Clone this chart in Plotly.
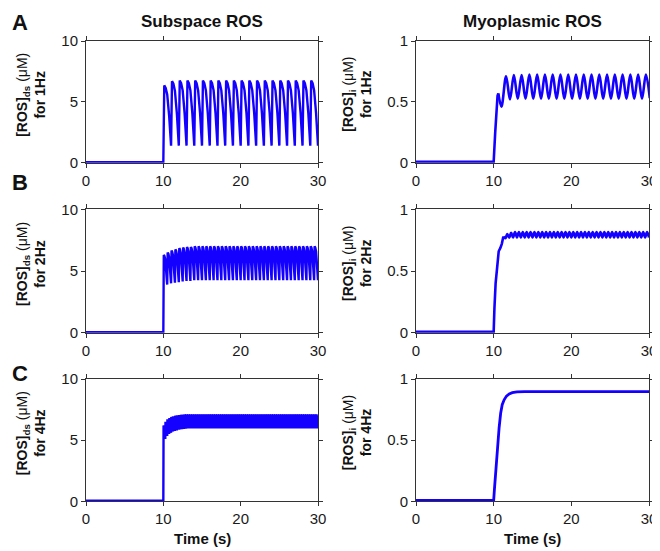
import plotly.graph_objects as go

# ---------------- data ----------------
t_start, t_end = 0.0, 30.0
stim_on = 10.0

# Subspace ROS, per-beat peak / trough values (uM)
ds_1hz_peak = [6.35, 6.7, 6.75, 6.75, 6.75, 6.75, 6.75, 6.75, 6.75, 6.75,
               6.75, 6.75, 6.75, 6.75, 6.75, 6.75, 6.75, 6.75, 6.75, 6.75]
ds_1hz_trough = [1.4, 1.4, 1.4, 1.4, 1.4, 1.4, 1.4, 1.4, 1.4, 1.4,
                 1.4, 1.4, 1.4, 1.4, 1.4, 1.4, 1.4, 1.4, 1.4, 1.4]
ds_2hz_peak = [6.3, 6.5, 6.65, 6.75, 6.85, 6.9, 6.95, 6.95] + [7.0] * 32
ds_2hz_trough = [3.9, 4.0, 4.05, 4.1, 4.15, 4.2, 4.2, 4.25] + [4.25] * 32
ds_4hz_peak = [6.2, 6.5, 6.7, 6.8, 6.9, 6.95, 7.0, 7.03, 7.05, 7.07, 7.08] + [7.1] * 69
ds_4hz_trough = [5.1, 5.35, 5.5, 5.6, 5.7, 5.75, 5.8, 5.85, 5.88, 5.9, 5.92, 5.94] + [5.96] * 68
ds_baseline = 0.05

# Myoplasmic ROS (uM): onset rise, then per-beat peaks / troughs
myo_baseline = 0.008
myo_1hz_rise_t = [10.0, 10.2, 10.4, 10.5, 10.6]
myo_1hz_rise_v = [0.008, 0.25, 0.48, 0.55, 0.57]
myo_1hz_osc_start = 10.6
myo_1hz_peak = [0.71, 0.72, 0.72, 0.725, 0.725, 0.725, 0.725, 0.725, 0.725, 0.725,
                0.725, 0.725, 0.725, 0.725, 0.725, 0.725, 0.725, 0.725, 0.725]
myo_1hz_trough = [0.46, 0.52, 0.525, 0.525, 0.525, 0.525, 0.525, 0.525, 0.525, 0.525,
                  0.525, 0.525, 0.525, 0.525, 0.525, 0.525, 0.525, 0.525, 0.525, 0.53]

myo_2hz_rise_t = [10.0, 10.1, 10.25, 10.45, 10.65, 10.85, 11.05, 11.25]
myo_2hz_rise_v = [0.008, 0.2, 0.40, 0.53, 0.66, 0.685, 0.72, 0.78]
myo_2hz_osc_start = 11.25
myo_2hz_peak = [0.8, 0.81] + [0.815] * 35
myo_2hz_trough = [0.765, 0.77] + [0.772] * 36

myo_4hz_t = [10.0, 10.1, 10.3, 10.5, 10.7, 10.9, 11.1, 11.35, 11.65, 12.0, 12.4, 13.0, 14.0, 30.0]
myo_4hz_v = [0.008, 0.1, 0.28, 0.45, 0.6, 0.72, 0.79, 0.83, 0.86, 0.878, 0.888, 0.894, 0.896, 0.897]

freq_labels = ["1Hz", "2Hz", "4Hz"]
panel_letters = ["A", "B", "C"]
col_titles = ["Subspace ROS", "Myoplasmic ROS"]
x_ticks = [0, 10, 20, 30]
ds_ticks = [0, 5, 10]
myo_ticks = [0, 0.5, 1]
myo_tick_text = ["0", "0.5", "1"]

# ---------------- helpers ----------------
# shape of one subspace transient (fractions of period, fraction of drop)
SHAPE_F = [0.12, 0.3, 0.5, 0.75, 1.0]
SHAPE_W = [0.0, 0.04, 0.15, 0.5, 1.0]


def pulse_train(freq, peaks, troughs, base):
    period = 1.0 / freq
    xs, ys = [t_start, stim_on], [base, base]
    for k, (p, tr) in enumerate(zip(peaks, troughs)):
        b = stim_on + k * period
        for f, w in zip(SHAPE_F, SHAPE_W):
            xs.append(b + f * period)
            ys.append(p - w * (p - tr))
    return xs, ys


def osc_train(freq, start, start_v, troughs, peaks):
    """alternating trough / peak every half period after `start`"""
    period = 1.0 / freq
    xs, ys = [start], [start_v]
    n = max(len(troughs), len(peaks))
    for k in range(n):
        if k < len(troughs):
            xs.append(start + (k + 0.5) * period)
            ys.append(troughs[k])
        if k < len(peaks):
            xs.append(start + (k + 1.0) * period)
            ys.append(peaks[k])
    return xs, ys


# ---------------- layout geometry ----------------
# the page adds an 8px body margin; layout is done in window pixels
OFF = 8
W, H = 660 - OFF, 551 - OFF
FONT = "Liberation Sans, Arial, sans-serif"
BLUE = "rgb(20,0,255)"
AX = "#333333"

col_px = [(86, 318), (416, 649)]
row_px = [(41, 162.7), (209.3, 332.7), (379, 501.3)]


def px_x(x):
    return (x - OFF) / W


def px_y(y):
    return 1 - (y - OFF) / H


fig = go.Figure()


def add_line(xs, ys, xa, ya, width, shape="linear"):
    fig.add_trace(go.Scatter(x=xs, y=ys, mode="lines", xaxis=xa, yaxis=ya,
                             line=dict(color=BLUE, width=width, shape=shape,
                                       smoothing=1.0 if shape == "spline" else None),
                             showlegend=False, hoverinfo="skip"))


for r in range(3):
    for c in range(2):
        idx = r * 2 + c + 1
        xa = "x" if idx == 1 else f"x{idx}"
        ya = "y" if idx == 1 else f"y{idx}"
        if c == 0:
            xs, ys = [pulse_train(1, ds_1hz_peak, ds_1hz_trough, ds_baseline),
                      pulse_train(2, ds_2hz_peak, ds_2hz_trough, ds_baseline),
                      pulse_train(4, ds_4hz_peak, ds_4hz_trough, ds_baseline)][r]
            add_line(xs, ys, xa, ya, 2.4)
        else:
            if r == 0:
                add_line([t_start] + myo_1hz_rise_t, [myo_baseline] + myo_1hz_rise_v, xa, ya, 2.6)
                ox, oy = osc_train(1, myo_1hz_osc_start, myo_1hz_rise_v[-1],
                                   myo_1hz_trough, myo_1hz_peak)
                ox[1] = 11.0
                add_line(ox, oy, xa, ya, 2.6, "spline")
            elif r == 1:
                add_line([t_start] + myo_2hz_rise_t, [myo_baseline] + myo_2hz_rise_v, xa, ya, 2.6)
                ox, oy = osc_train(2, myo_2hz_osc_start, myo_2hz_rise_v[-1],
                                   myo_2hz_trough, myo_2hz_peak)
                add_line(ox, oy, xa, ya, 2.6, "spline")
            else:
                add_line([t_start] + myo_4hz_t, [myo_baseline] + myo_4hz_v, xa, ya, 2.8)
        x0, x1 = col_px[c]
        y0, y1 = row_px[r]
        axis_common = dict(showline=True, linecolor=AX, linewidth=1, mirror="ticks",
                           ticks="outside", ticklen=4, tickcolor=AX, tickwidth=1,
                           showgrid=False, zeroline=False, automargin=False,
                           tickfont=dict(family=FONT, size=15, color="#1a1a1a"))
        xkey = "xaxis" if idx == 1 else f"xaxis{idx}"
        ykey = "yaxis" if idx == 1 else f"yaxis{idx}"
        fig.layout[xkey] = dict(domain=[px_x(x0), px_x(x1)], range=[t_start, t_end],
                                tickvals=x_ticks, anchor=ya, **axis_common)
        if c == 0:
            yticks = dict(tickvals=ds_ticks, range=[0, 10])
        else:
            yticks = dict(tickvals=myo_ticks, ticktext=myo_tick_text, range=[0, 1])
        fig.layout[ykey] = dict(domain=[px_y(y1), px_y(y0)], anchor=xa,
                                **yticks, **axis_common)

ann = []
for c, title in enumerate(col_titles):
    cx = (col_px[c][0] + col_px[c][1]) / 2
    ann.append(dict(text=f"<b>{title}</b>", x=px_x(cx), y=px_y(21.5), xref="paper",
                    yref="paper", showarrow=False, font=dict(family=FONT, size=17, color="#111"),
                    xanchor="center", yanchor="middle"))
    ann.append(dict(text="<b>Time (s)</b>", x=px_x(cx), y=px_y(538), xref="paper",
                    yref="paper", showarrow=False, font=dict(family=FONT, size=15, color="#111"),
                    xanchor="center", yanchor="middle"))

letter_y = [22, 183, 373]
label_cx = [31, 357]
for r in range(3):
    ann.append(dict(text=f"<b>{panel_letters[r]}</b>", x=px_x(10), y=px_y(letter_y[r]),
                    xref="paper", yref="paper", showarrow=False,
                    font=dict(family=FONT, size=22, color="#111"),
                    xanchor="left", yanchor="middle"))
    cy = (row_px[r][0] + row_px[r][1]) / 2 - 7
    for c in range(2):
        sub = "ds" if c == 0 else "i"
        txt = f"<b>[ROS]<sub>{sub}</sub></b> (μM)<br><b>for {freq_labels[r]}</b>"
        ann.append(dict(text=txt, x=px_x(label_cx[c]), y=px_y(cy), xref="paper",
                        yref="paper", showarrow=False, textangle=-90,
                        font=dict(family=FONT, size=14, color="#111"),
                        xanchor="center", yanchor="middle"))

fig.update_layout(width=W, height=H, margin=dict(l=0, r=0, t=0, b=0, autoexpand=False),
                  paper_bgcolor="white", plot_bgcolor="white", annotations=ann)

fig.write_html("out.html")
